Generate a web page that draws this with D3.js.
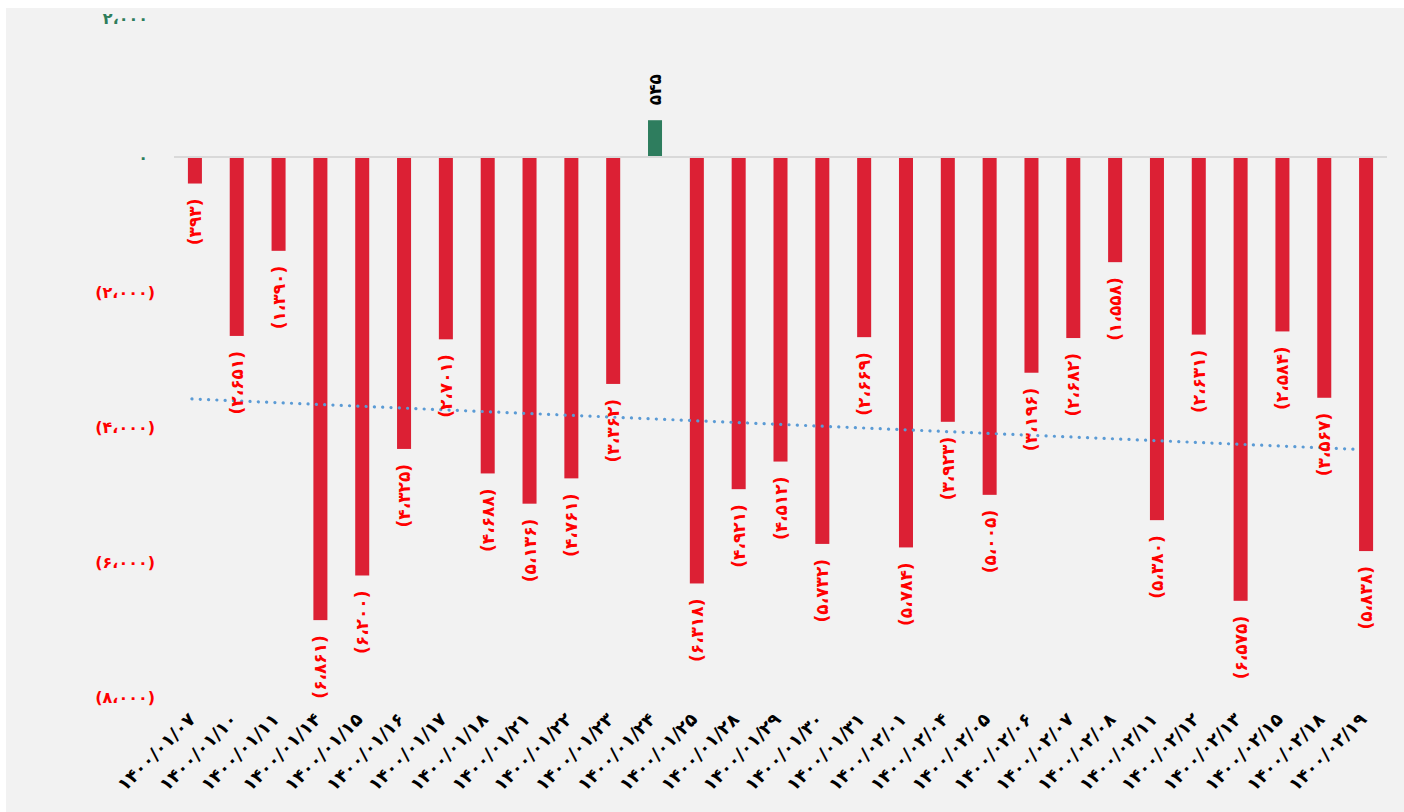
<!DOCTYPE html>
<html>
<head>
<meta charset="utf-8">
<script src="https://cdn.jsdelivr.net/npm/d3@7/dist/d3.min.js"></script>
<style>
  body { margin: 0; background: #ffffff; }
  svg { display: block; font-family: "DejaVu Sans", sans-serif; }
</style>
</head>
<body>
<svg width="1404" height="812"></svg>
<script>
var categories = [
  "۱۴۰۰/۰۱/۰۷", "۱۴۰۰/۰۱/۱۰", "۱۴۰۰/۰۱/۱۱", "۱۴۰۰/۰۱/۱۴", "۱۴۰۰/۰۱/۱۵",
  "۱۴۰۰/۰۱/۱۶", "۱۴۰۰/۰۱/۱۷", "۱۴۰۰/۰۱/۱۸", "۱۴۰۰/۰۱/۲۱", "۱۴۰۰/۰۱/۲۲",
  "۱۴۰۰/۰۱/۲۳", "۱۴۰۰/۰۱/۲۴", "۱۴۰۰/۰۱/۲۵", "۱۴۰۰/۰۱/۲۸", "۱۴۰۰/۰۱/۲۹",
  "۱۴۰۰/۰۱/۳۰", "۱۴۰۰/۰۱/۳۱", "۱۴۰۰/۰۲/۰۱", "۱۴۰۰/۰۲/۰۴", "۱۴۰۰/۰۲/۰۵",
  "۱۴۰۰/۰۲/۰۶", "۱۴۰۰/۰۲/۰۷", "۱۴۰۰/۰۲/۰۸", "۱۴۰۰/۰۲/۱۱", "۱۴۰۰/۰۲/۱۲",
  "۱۴۰۰/۰۲/۱۳", "۱۴۰۰/۰۲/۱۵", "۱۴۰۰/۰۲/۱۸", "۱۴۰۰/۰۲/۱۹"
];
var values = [
  -393, -2651, -1390, -6861, -6200,
  -4325, -2701, -4688, -5136, -4761,
  -3362, 545, -6318, -4921, -4512,
  -5732, -2669, -5784, -3923, -5005,
  -3196, -2682, -1558, -5380, -2631,
  -6575, -2584, -3567, -5838
];
var yTicks = [2000, 0, -2000, -4000, -6000, -8000];

var faDigits = "۰۱۲۳۴۵۶۷۸۹";
function toFa(n) {
  var s = d3.format(",")(Math.abs(n)).replace(/,/g, "،");
  s = s.replace(/[0-9]/g, function(c) { return faDigits[+c]; });
  return n < 0 ? "(" + s + ")" : s;
}

var svg = d3.select("svg"),
    width = +svg.attr("width"),
    height = +svg.attr("height");

// chart area
svg.append("rect")
  .attr("x", 6).attr("y", 8)
  .attr("width", width - 6).attr("height", height - 8)
  .attr("fill", "#f2f2f2");

var x = d3.scaleBand()
  .domain(categories)
  .range([174, 1387])
  .paddingInner(0.665)
  .paddingOuter(0.3325);

var y = d3.scaleLinear()
  .domain([-8000, 2000])
  .range([697, 22]);

// y axis labels
var yAxis = svg.append("g")
  .attr("transform", "translate(155,0)")
  .call(d3.axisLeft(y).tickValues(yTicks).tickSize(0).tickPadding(0).tickFormat(toFa));
yAxis.select(".domain").remove();
yAxis.selectAll("text")
  .attr("font-family", "DejaVu Sans, sans-serif")
  .attr("font-size", 16)
  .attr("font-weight", "bold")
  .attr("fill", function(d) { return d < 0 ? "#ff0000" : "#2e7d5b"; })
  .attr("dx", function(d) { return d < 0 ? 0 : -7; })
  .attr("dy", function(d) { return d == 2000 ? "0.1em" : "0.32em"; });

// zero line
svg.append("line")
  .attr("x1", 174).attr("x2", 1387)
  .attr("y1", y(0)).attr("y2", y(0))
  .attr("stroke", "#d9d9d9")
  .attr("stroke-width", 2);

// bars
svg.append("g")
  .selectAll("rect")
  .data(values)
  .enter().append("rect")
    .attr("x", function(d, i) { return x(categories[i]); })
    .attr("y", function(d) { return d < 0 ? y(0) + 1 : y(d); })
    .attr("width", x.bandwidth())
    .attr("height", function(d) { return d < 0 ? y(d) - y(0) - 1 : y(0) - y(d) - 1; })
    .attr("fill", function(d) { return d < 0 ? "#dc2034" : "#2e7d5e"; });

// linear trend line (least squares over category index)
var n = values.length;
var mx = d3.mean(values, function(d, i) { return i; });
var my = d3.mean(values);
var sxy = d3.sum(values, function(d, i) { return (i - mx) * (d - my); });
var sxx = d3.sum(values, function(d, i) { return (i - mx) * (i - mx); });
var slope = sxy / sxx;
var icept = my - slope * mx;
var half = x.bandwidth() / 2;

svg.append("line")
  .attr("x1", x(categories[0]) + half - 3)
  .attr("y1", y(icept))
  .attr("x2", x(categories[n - 1]) + half - 6)
  .attr("y2", y(icept + slope * (n - 1)))
  .attr("stroke", "#5b9bd5")
  .attr("stroke-width", 3.2)
  .attr("stroke-linecap", "round")
  .attr("stroke-dasharray", "0.1,8.2");

// data labels
svg.append("g")
  .selectAll("text")
  .data(values)
  .enter().append("text")
    .attr("transform", function(d, i) {
      var cx = x(categories[i]) + half;
      var ly = d < 0 ? y(d) + 15 : y(d) - 15;
      return "translate(" + cx + "," + ly + ") rotate(-90)";
    })
    .attr("text-anchor", function(d) { return d < 0 ? "end" : "start"; })
    .attr("dominant-baseline", "central")
    .attr("font-size", 17)
    .attr("font-weight", "bold")
    .attr("fill", function(d) { return d < 0 ? "#ff0000" : "#000000"; })
    .text(toFa);

// category labels
svg.append("g")
  .selectAll("text")
  .data(categories)
  .enter().append("text")
    .attr("transform", function(d) {
      return "translate(" + (x(d) + half - 3) + ",716) rotate(-45)";
    })
    .attr("text-anchor", "end")
    .attr("dominant-baseline", "central")
    .attr("font-size", 18)
    .attr("font-weight", "bold")
    .attr("fill", "#000000")
    .text(function(d) { return d; });
</script>
</body>
</html>
